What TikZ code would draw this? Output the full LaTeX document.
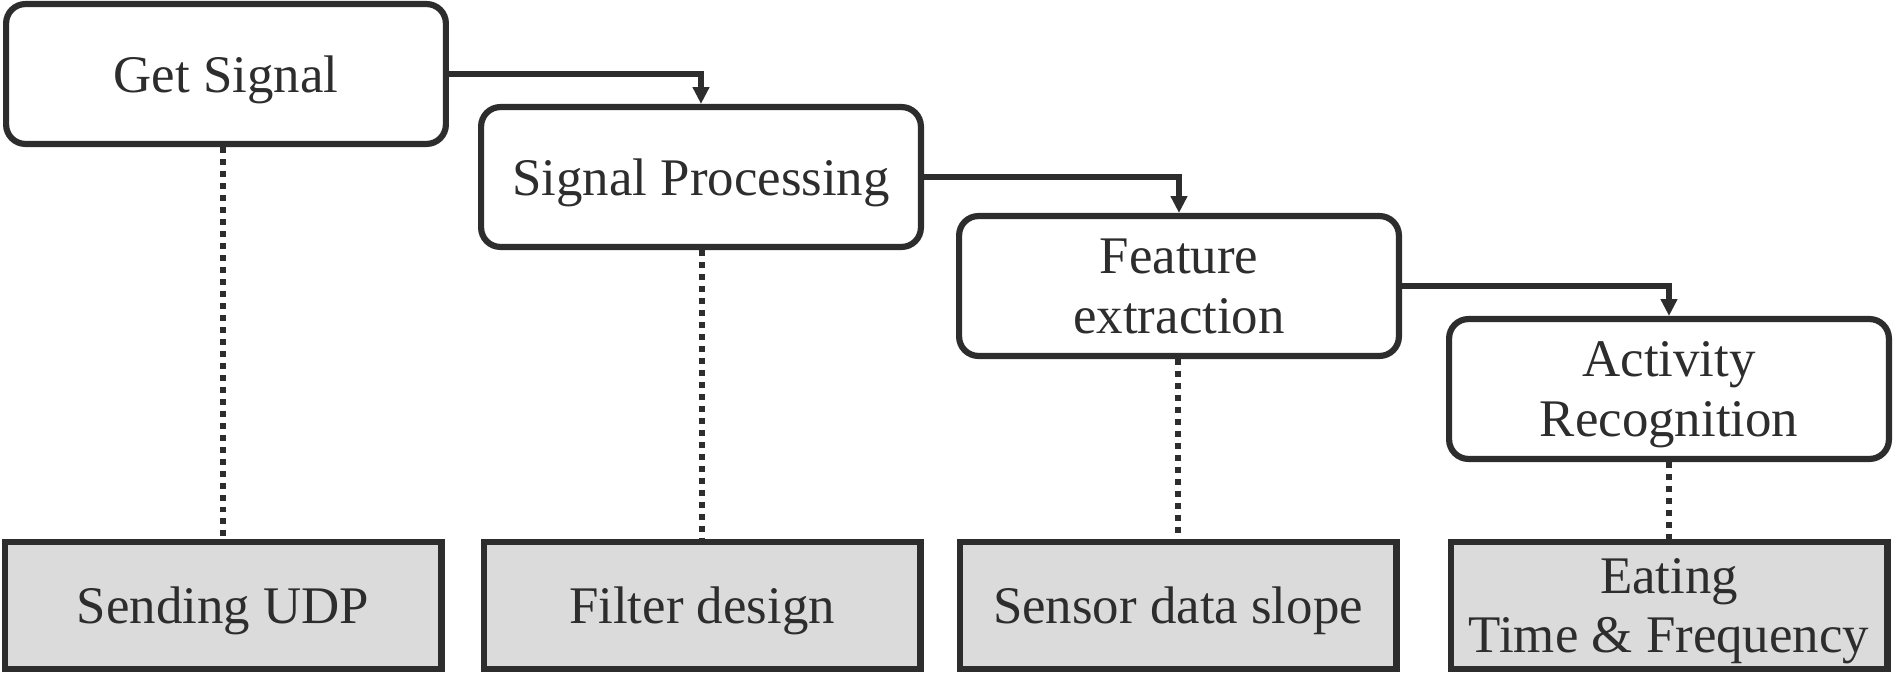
\documentclass[tikz,border=0pt]{standalone}
\usepackage{fontspec}
\setmainfont{Liberation Serif}
\usetikzlibrary{arrows.meta}
\definecolor{ink}{RGB}{45,45,45}
\definecolor{boxgray}{RGB}{219,219,219}
\tikzset{
  topbox/.style={draw=ink, line width=3.5pt, rounded corners=11pt, fill=white,
    minimum width=249.6pt, minimum height=79.4pt, inner sep=0pt, align=center,
    text depth=0pt, font=\fontsize{30}{34}\selectfont, text=ink},
  botbox/.style={draw=ink, line width=3.5pt, fill=boxgray,
    minimum width=247.9pt, minimum height=72pt, inner sep=0pt, align=center,
    text depth=0pt, font=\fontsize{30}{34}\selectfont, text=ink},
  flow/.style={draw=ink, line width=3.4pt, -{Triangle[length=9.5pt,width=9pt]}},
  link/.style={draw=ink, line width=3.4pt, dash pattern=on 3.4pt off 3.4pt}
}
\begin{document}
\begin{tikzpicture}[x=0.5675pt, y=-0.5675pt]
\useasboundingbox (0,0) rectangle (1903,699);
\node[topbox] (A) at (226,74) {Get Signal};
\node[topbox] (B) at (701,177) {Signal Processing};
\node[topbox] (C) at (1179,286) {Feature\\extraction};
\node[topbox] (D) at (1669,389) {Activity\\Recognition};
\node[botbox] (E) at (223,605.5) {Sending UDP};
\node[botbox] (F) at (702,605.5) {Filter design};
\node[botbox] (G) at (1178,605.5) {Sensor data slope};
\node[botbox] (H) at (1669,605.5) {Eating\\Time \& Frequency};
\draw[flow] (A.east) -| (B.north);
\draw[flow] (B.east) -| (C.north);
\draw[flow] (C.east) -| (D.north);
\draw[link] (E.north |- A.south) -- (E.north);
\draw[link] (F.north |- B.south) -- (F.north);
\draw[link] (G.north |- C.south) -- (G.north);
\draw[link] (H.north |- D.south) -- (H.north);
\end{tikzpicture}
\end{document}
